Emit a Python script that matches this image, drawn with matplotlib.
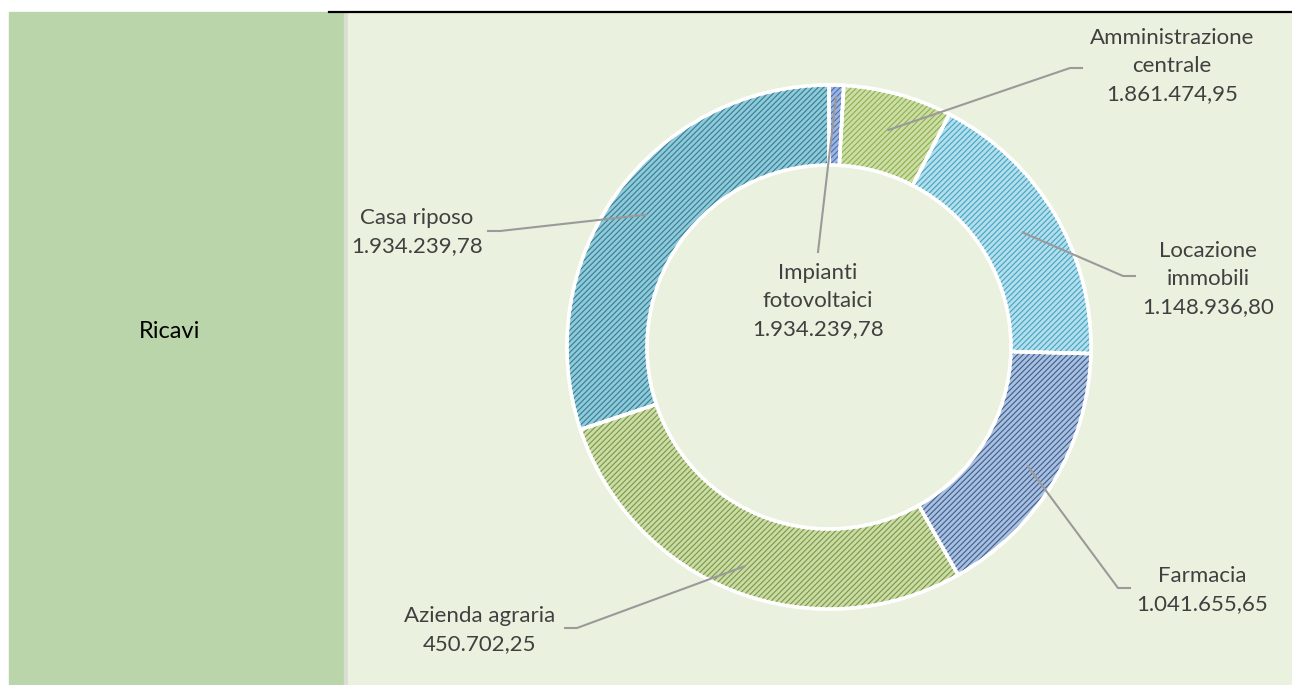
import numpy as np
import matplotlib.pyplot as plt
from matplotlib.patches import Rectangle, Wedge

plt.rcParams['font.family'] = ['Lato', 'DejaVu Sans']
plt.rcParams['hatch.linewidth'] = 0.8

# slices clockwise from 12 o'clock (share of the ring)
categorie = ['Impianti\nfotovoltaici', 'Amministrazione\ncentrale', 'Locazione\nimmobili',
             'Farmacia', 'Azienda agraria', 'Casa riposo']
quote = [0.9, 6.7, 17.8, 16.4, 28.1, 30.1]
importi = ['1.934.239,78', '1.861.474,95', '1.148.936,80',
           '1.041.655,65', '450.702,25', '1.934.239,78']

colori = ['#9DB4DE', '#CCDEA6', '#B3DEEC', '#AABFDE', '#CBDBA6', '#92C9D8']
tratteggio = ['#4A70B6', '#8DAF4E', '#45A4C2', '#3A5E91', '#7A9845', '#2F7F96']

W, H = 1292, 685
fig = plt.figure(figsize=(W / 100, H / 100), dpi=100)
ax = fig.add_axes([0, 0, 1, 1])

# panels
ax.add_patch(Rectangle((9, 0), 335, H - 12, color='#BBD5AA', zorder=0))
ax.add_patch(Rectangle((344, 0), 4, H - 12, color='#D9DDD2', zorder=0))
ax.add_patch(Rectangle((348, 0), W - 348, H - 12, color='#EBF1DF', zorder=0))
ax.plot([329, W], [H - 12, H - 12], color='black', lw=1.6, zorder=1)
ax.text(170, H - 331, 'Ricavi', fontsize=17, ha='center', va='center', color='black')

cx, cy, R, larg = 829, H - 347, 262, 80
wedges, _ = ax.pie(quote, colors=colori, startangle=90, counterclock=False,
                   center=(cx, cy), radius=R, frame=True,
                   wedgeprops=dict(width=larg, edgecolor='white', linewidth=2.5))
for w, hc in zip(wedges, tratteggio):
    w.set_zorder(2)
    ax.add_patch(Wedge(w.center, w.r, w.theta1, w.theta2, width=w.width,
                       facecolor='none', edgecolor=hc, linewidth=0,
                       hatch='//////', zorder=3))
    ax.add_patch(Wedge(w.center, w.r, w.theta1, w.theta2, width=w.width,
                       facecolor='none', edgecolor='white', linewidth=2.5, zorder=4))
ax.set_xlim(0, W)
ax.set_ylim(0, H)
ax.set_aspect('equal')
ax.axis('off')

# label layout: (elbow x, elbow y, end x, text x, text y, start radius) in pixels
layout = [
    (818, 252, 818, 818, 301, 250),
    (1070, 68, 1082, 1172, 66, 225),
    (1123, 276, 1135, 1208, 279, 225),
    (1118, 588, 1130, 1202, 590, 232),
    (577, 628, 565, 480, 630, 235),
    (500, 231, 488, 417, 232, 226),
]
for w, cat, imp, (ex, ey, tx, lx, ly, rs) in zip(wedges, categorie, importi, layout):
    mid = np.deg2rad((w.theta1 + w.theta2) / 2)
    sx, sy = cx + rs * np.cos(mid), cy + rs * np.sin(mid)
    ax.plot([sx, ex, tx], [sy, H - ey, H - ey], color='#9A9A9A', lw=1.5, zorder=5)
    ax.text(lx, H - ly, cat + '\n' + imp, fontsize=16, ha='center', va='center',
            color='#404040', linespacing=1.5, zorder=6)

fig.savefig('out.png', dpi=100)
